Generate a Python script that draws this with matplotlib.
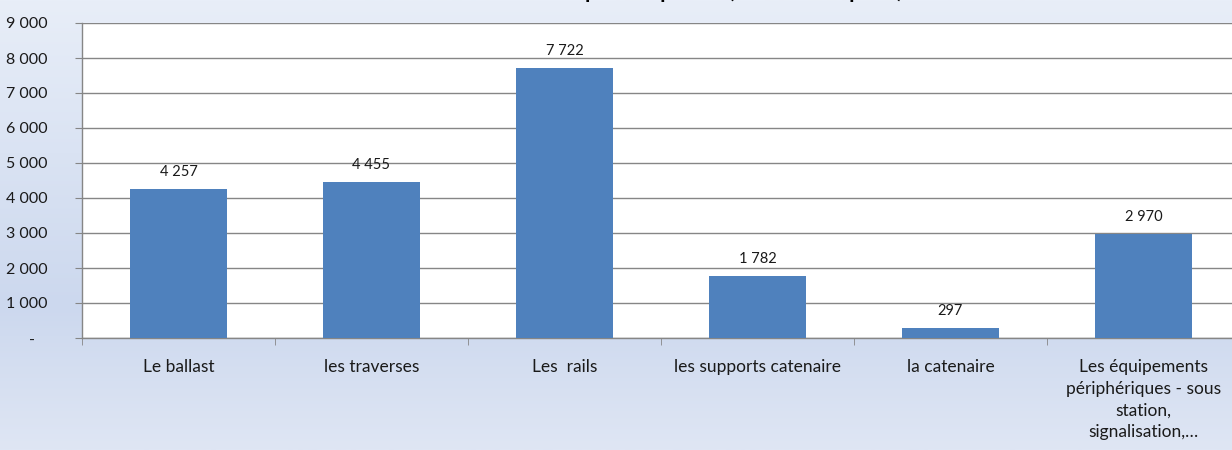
import numpy as np
import matplotlib
matplotlib.use("Agg")
import matplotlib.pyplot as plt
from matplotlib.colors import LinearSegmentedColormap
from matplotlib.ticker import FixedLocator

categories = ["Le ballast", "les traverses", "Les  rails", "les supports catenaire",
              "la catenaire", "Les équipements\npériphériques - sous\nstation,\nsignalisation,…"]
values = [4257, 4455, 7722, 1782, 297, 2970]
yticks = [0, 1000, 2000, 3000, 4000, 5000, 6000, 7000, 8000, 9000]
ytick_labels = ["-   ", "1 000", "2 000", "3 000", "4 000", "5 000", "6 000", "7 000", "8 000", "9 000"]
value_labels = ["4 257", "4 455", "7 722", "1 782", "297", "2 970"]
title = "Emissions de GES par composant (en tonnes eq CO₂)"

plt.rcParams['font.family'] = ['Lato', 'DejaVu Sans']

W, H = 1232, 450
fig = plt.figure(figsize=(W/100, H/100), dpi=100)

# background gradient
bg = fig.add_axes([0, 0, 1, 1], zorder=-10)
cmap = LinearSegmentedColormap.from_list("bg", [(0, "#e8eef8"), (0.68, "#ccd8ee"), (1.0, "#dfe6f4")])
grad = np.linspace(0, 1, 256).reshape(-1, 1)
bg.imshow(grad, aspect="auto", cmap=cmap, extent=[0, 1, 0, 1], origin="upper")
bg.axis("off")

left, right, top, bottom = 82, 1240, 23, 338
ax = fig.add_axes([left/W, 1 - bottom/H, (right-left)/W, (bottom-top)/H])
ax.set_facecolor("white")

x = np.arange(len(categories))
ax.bar(x, values, width=0.5, color="#4f81bd", zorder=3)
ax.set_xlim(-0.5, len(categories) - 0.5)
ax.set_ylim(0, 9000)

ax.set_yticks(yticks)
ax.set_yticklabels(ytick_labels, fontsize=11.5, color="#1a1a1a")
ax.yaxis.grid(True, color="#868686", linewidth=1, zorder=0)
ax.set_axisbelow(True)

ax.set_xticks(x)
ax.set_xticklabels(categories, fontsize=12.5, linespacing=1.45, color="#1a1a1a")
ax.xaxis.set_minor_locator(FixedLocator(np.arange(-0.5, len(categories), 1.0)))
ax.tick_params(axis="x", which="major", length=0, pad=15)
ax.tick_params(axis="x", which="minor", length=5, color="#868686", direction="out")
ax.tick_params(axis="y", length=5, color="#868686", direction="out", pad=20)

for s in ["top", "right"]:
    ax.spines[s].set_visible(False)
for s in ["left", "bottom"]:
    ax.spines[s].set_color("#868686")
    ax.spines[s].set_linewidth(1)

for xi, v, lab in zip(x, values, value_labels):
    ax.annotate(lab, (xi, v), xytext=(0, 7), textcoords="offset points",
                ha="center", va="bottom", fontsize=10.5, color="#1a1a1a")

fig.text(660/W, 1 + 2.5/H, title, ha="center", va="baseline", fontsize=15, fontweight="bold")

fig.savefig("out.png", dpi=100)
